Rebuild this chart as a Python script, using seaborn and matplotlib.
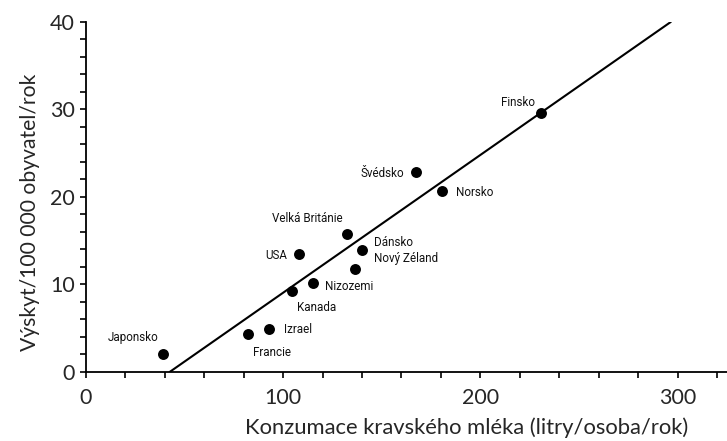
import matplotlib
matplotlib.use("Agg")
import matplotlib.pyplot as plt
from matplotlib import font_manager
from matplotlib.ticker import MultipleLocator
import seaborn as sns
import pandas as pd

# ---- data ----
countries = ["Japonsko", "Francie", "Izrael", "Kanada", "Nizozemi", "USA",
             "Velká Británie", "Dánsko", "Nový Zéland", "Švédsko", "Norsko", "Finsko"]
milk = [39, 82, 93, 104.5, 115, 108, 132.5, 140, 136.5, 167.5, 180.5, 230.5]
incidence = [2.1, 4.3, 4.9, 9.3, 10.2, 13.5, 15.8, 13.9, 11.8, 22.8, 20.7, 29.6]
fit_x = [42.5, 296.5]
fit_y = [0, 40]

x_ticks = [0, 100, 200, 300]
y_ticks = [0, 10, 20, 30, 40]
x_label = "Konzumace kravského mléka (litry/osoba/rok)"
y_label = "Výskyt/100 000 obyvatel/rok"

df = pd.DataFrame({"country": countries, "milk": milk, "inc": incidence})
fit = pd.DataFrame({"x": fit_x, "y": fit_y})

sns.set_theme(style="ticks")
plt.rcParams["font.family"] = ["Lato", "DejaVu Sans"]

names = {f.name for f in font_manager.fontManager.ttflist}
if "Liberation Sans Narrow" in names:
    label_family = ["Liberation Sans Narrow", "DejaVu Sans"]
    label_size = 9.5
else:
    label_family = ["Roboto", "DejaVu Sans"]
    label_size = 8.4

fig = plt.figure(figsize=(7.27, 4.41), dpi=100)
ax = fig.add_axes([0.118, 0.1565, 0.882, 0.7937])

sns.lineplot(data=fit, x="x", y="y", ax=ax, color="black", linewidth=1.5)
sns.scatterplot(data=df, x="milk", y="inc", ax=ax, color="black", s=62,
                edgecolor="black", linewidth=0, zorder=3)

# label placement (pixel offsets, alignment)
placement = {
    "Japonsko": (-30, 16, "center"),
    "Francie": (24, -18, "center"),
    "Izrael": (15, 0, "left"),
    "Kanada": (25, -17, "center"),
    "Nizozemi": (12, -4, "left"),
    "USA": (-12, -2, "right"),
    "Velká Británie": (-40, 15, "center"),
    "Dánsko": (12, 8, "left"),
    "Nový Zéland": (19, 10, "left"),
    "Švédsko": (-12, -1, "right"),
    "Norsko": (14, -2, "left"),
    "Finsko": (-6, 10, "right"),
}
for c, xv, yv in zip(countries, milk, incidence):
    dx, dy, ha = placement[c]
    ax.annotate(c, (xv, yv), xytext=(dx, dy), textcoords="offset pixels",
                ha=ha, va="center", fontsize=label_size,
                family=label_family, color="#111111")

ax.set_xlim(0, 325)
ax.set_ylim(0, 40)
ax.set_xticks(x_ticks)
ax.set_yticks(y_ticks)
ax.xaxis.set_minor_locator(MultipleLocator(20))
ax.yaxis.set_minor_locator(MultipleLocator(2))
ax.tick_params(which="both", direction="out", length=4, width=1.2, color="black")
ax.tick_params(axis="x", which="major", labelsize=15.5, pad=7.5)
ax.tick_params(axis="y", which="major", labelsize=15.5, pad=4)
for sp in ["top", "right"]:
    ax.spines[sp].set_visible(False)
for sp in ["left", "bottom"]:
    ax.spines[sp].set_linewidth(1.3)
    ax.spines[sp].set_color("black")

ax.set_xlabel(x_label, fontsize=15.8, labelpad=7, x=0.594)
ax.set_ylabel(y_label, fontsize=15.2, labelpad=7, y=0.457)

fig.savefig("out.png", dpi=100)
